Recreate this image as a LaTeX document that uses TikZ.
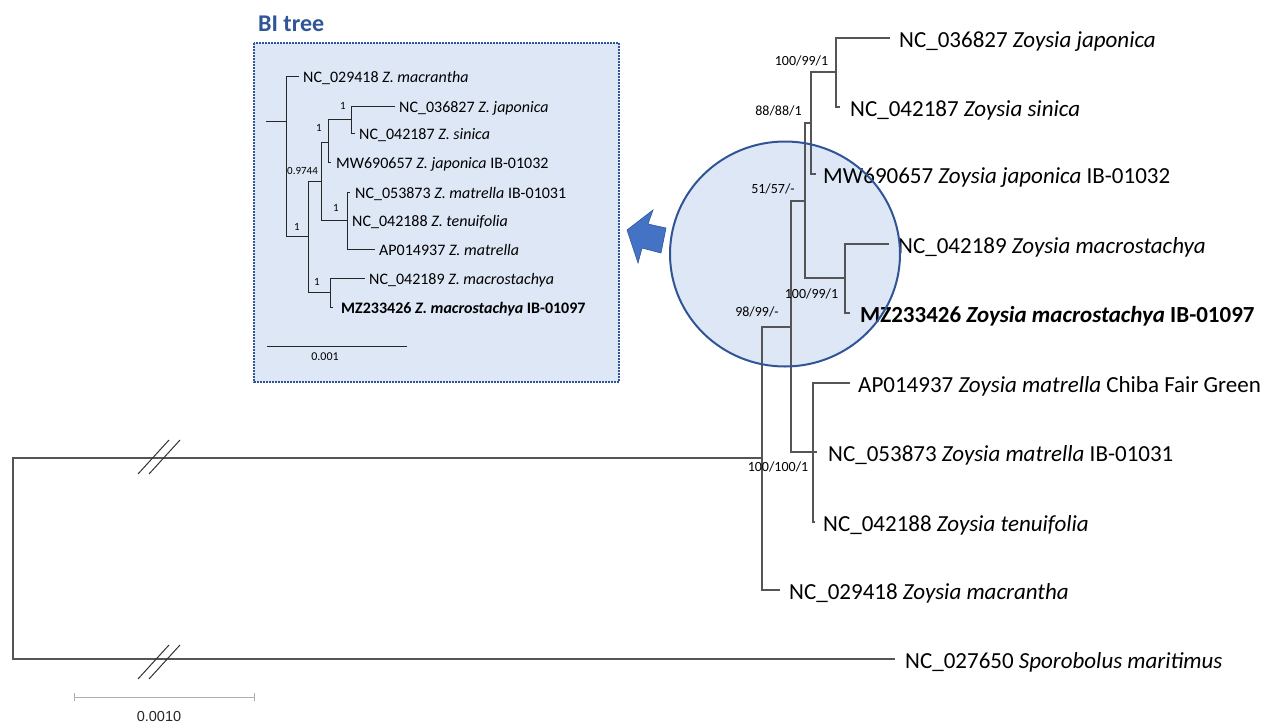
\documentclass[tikz,border=0pt]{standalone}
\usepackage{fontspec}
\setmainfont{Carlito}
\newfontfamily\arialf{Liberation Sans}
\definecolor{bdark}{RGB}{47,85,151}
\definecolor{bfill}{RGB}{222,231,246}
\definecolor{barrow}{RGB}{68,114,196}
\definecolor{treeline}{RGB}{85,85,85}
\definecolor{sclgray}{RGB}{175,175,175}
\tikzset{
  br/.style={draw=treeline, line width=1.3pt},
  ibr/.style={draw=black!85, line width=0.9pt},
  brk/.style={draw=black!80, line width=1pt},
  leaf/.style={anchor=west, inner sep=0pt, font=\fontsize{23}{27}\selectfont, text height=14.8pt, text depth=0pt},
  ileaf/.style={anchor=west, inner sep=0pt, font=\fontsize{16}{19}\selectfont, text height=10.3pt, text depth=0pt},
  supp/.style={inner sep=0pt, font=\fontsize{14}{17}\selectfont, text height=9pt, text depth=0pt},
  isupp/.style={inner sep=0pt, font=\fontsize{11}{13}\selectfont, text height=7.1pt, text depth=0pt},
  zone/.style={fill=bfill},
}
\begin{document}
\begin{tikzpicture}[x=1pt,y=-1pt]
\useasboundingbox (0,0) rectangle (1288,726);
% ---------- BI tree inset ----------
\node[anchor=west, inner sep=0pt, font=\fontsize{24}{28}\selectfont\bfseries, text=bdark, text height=15.5pt, text depth=0pt] (title) at (258,24) {BI tree};
\draw[zone, draw=bdark, line width=1.8pt, dash pattern=on 1.8pt off 1.2pt] (254,43) rectangle (619,382);
\coordinate (iR) at (266,121);
\coordinate (i1) at (286,121);
\coordinate (i2) at (308,236);
\coordinate (i3) at (321,181);
\coordinate (i4) at (328,142);
\coordinate (i5) at (347,220);
\coordinate (i6) at (330,292);
\coordinate (i7) at (351,119);
\coordinate (il1) at (299,76);
\coordinate (il2) at (395,106);
\coordinate (il3) at (355,133);
\coordinate (il4) at (331,162);
\coordinate (il5) at (350,192);
\coordinate (il7) at (375,249);
\coordinate (il8) at (365,278);
\coordinate (il9) at (333,307);
\draw[ibr] (iR) -- (i1);
\draw[ibr] (i1) |- (il1);
\draw[ibr] (i1) |- (i2);
\draw[ibr] (i2) |- (i3);
\draw[ibr] (i2) |- (i6);
\draw[ibr] (i3) |- (i4);
\draw[ibr] (i3) |- (i5);
\draw[ibr] (i4) |- (i7);
\draw[ibr] (i4) |- (il4);
\draw[ibr] (i7) |- (il2);
\draw[ibr] (i7) |- (il3);
\draw[ibr] (i5) |- (il5);
\draw[ibr] (i5) |- (il7);
\draw[ibr] (i6) |- (il8);
\draw[ibr] (i6) |- (il9);
\node[ileaf] (it1) at (303,77) {NC\_029418 \textit{Z. macrantha}};
\node[ileaf] (it2) at (399,107) {NC\_036827 \textit{Z. japonica}};
\node[ileaf] (it3) at (359,134) {NC\_042187 \textit{Z. sinica}};
\node[ileaf] (it4) at (336,163) {MW690657 \textit{Z. japonica} IB-01032};
\node[ileaf] (it5) at (355,193) {NC\_053873 \textit{Z. matrella} IB-01031};
\node[ileaf] (it6) at (352,221) {NC\_042188 \textit{Z. tenuifolia}};
\node[ileaf] (it7) at (379,250) {AP014937 \textit{Z. matrella}};
\node[ileaf] (it8) at (369,279) {NC\_042189 \textit{Z. macrostachya}};
\node[ileaf] (it9) at (341,308) {\bfseries MZ233426 \textit{Z. macrostachya} IB-01097};
\node[isupp] (is1) at (343,106) {1};
\node[isupp] (is2) at (319,128) {1};
\node[isupp] (is3) at (302.5,170.5) {0.9744};
\node[isupp] (is4) at (336,208) {1};
\node[isupp] (is5) at (297,227) {1};
\node[isupp] (is6) at (317,282) {1};
\coordinate (isb1) at (267,346);
\coordinate (isb2) at (407,346);
\draw[ibr] (isb1) -- (isb2);
\node[isupp, font=\fontsize{12}{14}\selectfont] (isbl) at (325,357) {0.001};
% ---------- highlight circle (fill) ----------
\fill[bfill] (785,254) ellipse [x radius=115, y radius=112.5];
% ---------- main tree ----------
\coordinate (R) at (13,558);
\coordinate (N100) at (762,458);
\coordinate (N98) at (791,327);
\coordinate (N51) at (805,201);
\coordinate (N88) at (811,123);
\coordinate (N100b) at (836,72);
\coordinate (Nmac) at (845,278);
\coordinate (Nmat) at (813,452);
\coordinate (L1) at (890,38);
\coordinate (L2) at (840,107);
\coordinate (L3) at (816,174);
\coordinate (L4) at (889,244);
\coordinate (L5) at (850,313);
\coordinate (L6) at (850,383);
\coordinate (L7) at (817,452);
\coordinate (L8) at (815,522);
\coordinate (L9) at (780,590);
\coordinate (L10) at (895,659);
\draw[br] (R) |- (N100);
\draw[br] (R) |- (L10);
\draw[br] (N100) |- (N98);
\draw[br] (N100) |- (L9);
\draw[br] (N98) |- (N51);
\draw[br] (N98) |- (Nmat);
\draw[br] (N51) |- (N88);
\draw[br] (N51) |- (Nmac);
\draw[br] (N88) |- (N100b);
\draw[br] (N88) |- (L3);
\draw[br] (N100b) |- (L1);
\draw[br] (N100b) |- (L2);
\draw[br] (Nmac) |- (L4);
\draw[br] (Nmac) |- (L5);
\draw[br] (Nmat) |- (L6);
\draw[br] (Nmat) |- (L7);
\draw[br] (Nmat) |- (L8);
\node[leaf] (t1) at (899,40) {NC\_036827 \textit{Zoysia japonica}};
\node[leaf] (t2) at (850,109) {NC\_042187 \textit{Zoysia sinica}};
\node[leaf] (t3) at (823,176) {MW690657 \textit{Zoysia japonica} IB-01032};
\node[leaf] (t4) at (898,246) {NC\_042189 \textit{Zoysia macrostachya}};
\node[leaf] (t5) at (860,315) {\bfseries MZ233426 \textit{Zoysia macrostachya} IB-01097};
\node[leaf] (t6) at (858,385) {AP014937 \textit{Zoysia matrella} Chiba Fair Green};
\node[leaf] (t7) at (828,454) {NC\_053873 \textit{Zoysia matrella} IB-01031};
\node[leaf] (t8) at (823,524) {NC\_042188 \textit{Zoysia tenuifolia}};
\node[leaf] (t9) at (789,592) {NC\_029418 \textit{Zoysia macrantha}};
\node[leaf] (t10) at (905,661) {NC\_027650 \textit{Sporobolus maritimus}};
\node[supp] (s1) at (801.5,61) {100/99/1};
\node[supp] (s2) at (778.5,111) {88/88/1};
\node[supp] (s3) at (773,189) {51/57/-};
\node[supp] (s4) at (811.5,294) {100/99/1};
\node[supp] (s5) at (757,312) {98/99/-};
\node[supp] (s6) at (778,467) {100/100/1};
% break marks
\draw[brk] (138,474) -- (169,440);
\draw[brk] (149,474) -- (180,440);
\draw[brk] (138,679) -- (169,645);
\draw[brk] (149,679) -- (180,645);
% scale bar
\coordinate (sb1) at (74,697);
\coordinate (sb2) at (254,697);
\draw[draw=sclgray, line width=1pt] (sb1) -- (sb2)
  ([yshift=-4pt]sb1) -- ([yshift=4pt]sb1)
  ([yshift=-4pt]sb2) -- ([yshift=4pt]sb2);
\node[inner sep=0pt, font=\arialf\fontsize{14.5}{17}\selectfont, text=black!85, text height=10.4pt, text depth=0pt] (sbl) at (159,716) {0.0010};
% ---------- circle border and arrow ----------
\draw[draw=bdark, line width=2pt] (785,254) ellipse [x radius=115, y radius=112.5];
\filldraw[fill=barrow, draw=bdark, line width=0.6pt, line join=miter] (627,230) -- (653,210) -- (648,224) -- (666,228) -- (661,253) -- (642,248) -- (638,263) -- cycle;
\end{tikzpicture}
\end{document}
